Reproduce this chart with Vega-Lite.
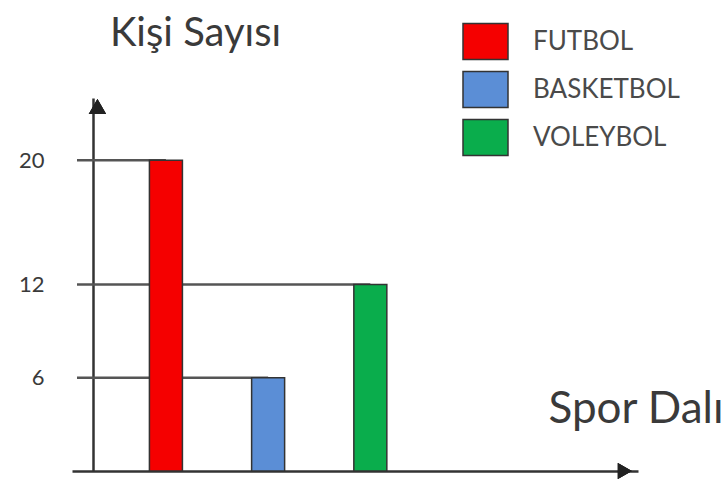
{
  "$schema": "https://vega.github.io/schema/vega-lite/v6.json",
  "width": 566,
  "height": 373,
  "autosize": {"type": "none"},
  "padding": {"left": 72, "top": 98, "right": 88, "bottom": 14},
  "background": "white",
  "config": {"view": {"stroke": null}, "font": "Lato"},
  "data": {"values": [
    {"spor": "FUTBOL", "sira": 1, "kisi": 20},
    {"spor": "BASKETBOL", "sira": 2, "kisi": 6},
    {"spor": "VOLEYBOL", "sira": 3, "kisi": 12}
  ]},
  "layer": [
    {
      "mark": {"type": "rule", "color": "#555555", "strokeWidth": 2.5},
      "encoding": {
        "x": {"field": "sira", "type": "quantitative", "scale": {"domain": [0.13, 5.57], "nice": false, "zero": false},
          "axis": {"domainColor": "#333333", "domainWidth": 2.5, "ticks": false, "labels": false, "grid": false,
            "title": "Spor Dalı", "titleX": 476, "titleY": -49, "titleAlign": "left", "titleBaseline": "alphabetic",
            "titleFontSize": 44, "titleFontWeight": "normal", "titleColor": "#3a3a3a"}},
        "x2": {"datum": 0.13},
        "y": {"field": "kisi", "type": "quantitative", "scale": {"domain": [0, 24], "nice": false},
          "axis": {"values": [6, 12, 20], "ticks": false, "offset": -21,
            "domainColor": "#333333", "domainWidth": 2.5, "grid": false,
            "labelFontSize": 22, "labelPadding": 49, "labelColor": "#3a3a3a",
            "title": "Kişi Sayısı", "titleAngle": 0, "titleX": 102, "titleY": -53, "titleAlign": "center",
            "titleBaseline": "alphabetic", "titleFontSize": 40, "titleFontWeight": "normal", "titleColor": "#3a3a3a"}}
      }
    },
    {
      "mark": {"type": "bar", "width": 33, "stroke": "#333333", "strokeWidth": 1.5},
      "encoding": {
        "x": {"field": "sira", "type": "quantitative"},
        "y": {"field": "kisi", "type": "quantitative"},
        "color": {"field": "spor", "type": "nominal",
          "scale": {"domain": ["FUTBOL", "BASKETBOL", "VOLEYBOL"], "range": ["#f50000", "#5b8ed6", "#0aad4c"]},
          "legend": {"orient": "none", "legendX": 390, "legendY": -80, "title": null, "padding": 0,
            "symbolType": "M-1,-0.8H1V0.8H-1Z", "symbolSize": 2025, "symbolStrokeColor": "#333333",
            "symbolStrokeWidth": 1.5, "symbolOpacity": 1, "labelFontSize": 26, "labelColor": "#4a4a4a",
            "labelOffset": 24, "rowPadding": 3}}
      }
    },
    {
      "mark": {"type": "point", "shape": "triangle-up", "filled": true, "color": "#222222", "size": 300, "opacity": 1},
      "encoding": {"x": {"datum": 0.33}, "y": {"datum": 23.45}}
    },
    {
      "mark": {"type": "point", "shape": "triangle-right", "filled": true, "color": "#222222", "size": 260, "opacity": 1},
      "encoding": {"x": {"datum": 5.49}, "y": {"datum": 0}}
    }
  ]
}
